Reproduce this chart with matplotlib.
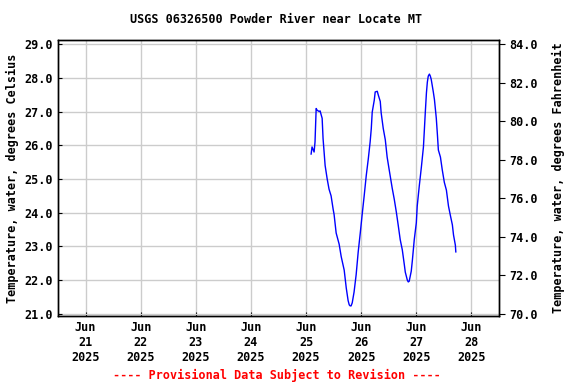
import numpy as np
import matplotlib.pyplot as plt
import matplotlib.dates as mdates
from datetime import datetime, timedelta

# hours after 2025-06-25 00:00
hours = [2.2, 2.6, 3.5, 3.9, 4.4, 4.8, 5.7, 6.1, 7.0, 7.4, 8.3, 9.2, 10.0, 10.9,
         11.8, 12.2, 13.1, 14.4, 15.3, 16.6, 17.5, 18.3, 18.8, 19.2, 19.6, 20.1,
         20.9, 21.8, 22.7, 23.6, 24.4, 25.3, 26.2, 27.1, 27.9, 28.4, 28.8, 29.7,
         30.1, 31.0, 31.4, 32.3, 32.7, 33.6, 34.5, 35.3, 36.2, 37.5, 38.4, 39.3,
         40.1, 41.0, 41.9, 42.8, 43.2, 44.1, 44.5, 44.9, 45.8, 46.3, 47.1, 48.0,
         48.4, 49.3, 50.2, 51.1, 51.5, 51.9, 52.4, 52.8, 53.2, 53.7, 54.1, 54.5,
         55.4, 55.9, 56.7, 57.2, 57.6, 58.5, 59.3, 60.2, 61.1, 62.0, 62.8, 63.7,
         64.2, 65.0, 65.2]
temp_c = [25.74, 25.95, 25.8, 26.1, 27.09, 27.04, 27.0, 27.02, 26.8, 26.2, 25.4,
          25.0, 24.7, 24.5, 24.1, 23.95, 23.4, 23.07, 22.7, 22.3, 21.77, 21.4,
          21.27, 21.24, 21.24, 21.33, 21.65, 22.16, 22.84, 23.4, 23.93, 24.5,
          25.1, 25.6, 26.1, 26.5, 26.98, 27.34, 27.58, 27.6, 27.5, 27.3, 26.96,
          26.5, 26.16, 25.65, 25.27, 24.73, 24.4, 24.02, 23.64, 23.2, 22.9, 22.45,
          22.24, 22.0, 21.95, 21.97, 22.27, 22.6, 23.2, 23.7, 24.2, 24.8, 25.35,
          25.95, 26.45, 26.96, 27.55, 27.87, 28.05, 28.11, 28.05, 27.95, 27.58,
          27.35, 26.8, 26.3, 25.86, 25.65, 25.27, 24.9, 24.67, 24.2, 23.93, 23.64,
          23.34, 23.04, 22.84]
day_ticks = [datetime(2025, 6, d) for d in range(21, 29)]
c_ticks = [21.0, 22.0, 23.0, 24.0, 25.0, 26.0, 27.0, 28.0, 29.0]
f_ticks = [70.0, 72.0, 74.0, 76.0, 78.0, 80.0, 82.0, 84.0]

start = datetime(2025, 6, 25)
times = [start + timedelta(hours=h) for h in hours]

font = {'family': 'DejaVu Sans Mono', 'weight': 'bold', 'size': 8.5}

fig = plt.figure(figsize=(5.76, 3.84), dpi=100)
ax = fig.add_axes([58 / 576, 68 / 384, 441 / 576, 276 / 384])
ax.plot(times, temp_c, color='blue', linewidth=1)

c_lo, c_hi = 20.94, 29.12
ax.set_ylim(c_lo, c_hi)
ax.set_xlim(datetime(2025, 6, 20, 12), datetime(2025, 6, 28, 12))
ax.set_xticks(day_ticks)
ax.set_xticklabels([d.strftime('%b\n%d\n%Y') for d in day_ticks], **font)
ax.set_yticks(c_ticks)
ax.set_yticklabels(['%.1f' % v for v in c_ticks], **font)
ax.grid(True, color='#cccccc', linewidth=1)
ax.tick_params(axis='both', length=3, direction='in')
ax.set_ylabel('Temperature, water, degrees Celsius', **font)

# right axis maps 21 -> 70 and 29 -> 84
ax2 = ax.twinx()
ax2.set_ylim(70 + (c_lo - 21) * 14 / 8, 70 + (c_hi - 21) * 14 / 8)
ax2.set_yticks(f_ticks)
ax2.set_yticklabels(['%.1f' % v for v in f_ticks], **font)
ax2.tick_params(axis='y', length=4, direction='out')
ax2.set_ylabel('Temperature, water, degrees Fahrenheit', labelpad=10, **font)

for a in (ax, ax2):
    for s in a.spines.values():
        s.set_linewidth(1)

fig.text(0.48, 0.948, 'USGS 06326500 Powder River near Locate MT', ha='center', va='center', **font)
fig.text(0.48, 0.023, '---- Provisional Data Subject to Revision ----', ha='center', va='center',
         color='red', **font)

fig.savefig('out.png', dpi=100)
